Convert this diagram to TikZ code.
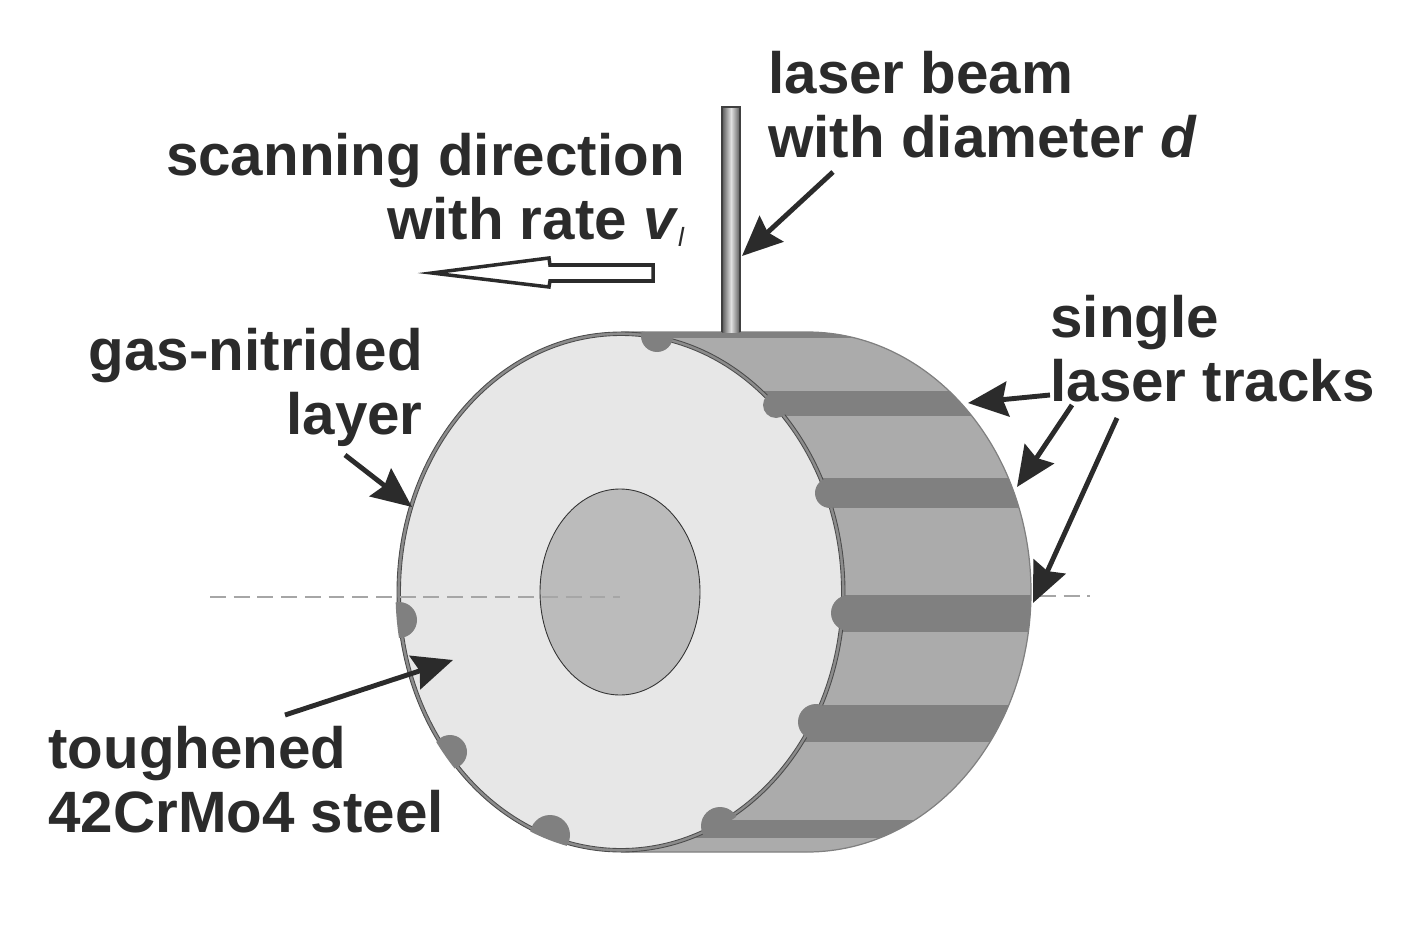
\documentclass[tikz,border=0pt]{standalone}
\usepackage{fontspec}
\setmainfont{Liberation Sans}
\usetikzlibrary{arrows.meta,positioning,shapes,calc}
\definecolor{bodygray}{HTML}{ABABAB}
\definecolor{trackgray}{HTML}{808080}
\definecolor{discgray}{HTML}{E7E7E7}
\definecolor{coregray}{HTML}{BBBBBB}
\definecolor{inkgray}{HTML}{2B2B2B}
\tikzset{
  lbl/.style={inner sep=0pt, text=inkgray, font=\fontsize{33.2}{36.3}\selectfont\bfseries},
  pointer/.style={draw=inkgray, line width=2.8pt, -{Stealth[length=0.8cm,width=0.7cm,inset=0.1cm]}},
  axisline/.style={draw=black!35, line width=1.1pt, dash pattern=on 9pt off 4.5pt},
}
\begin{document}
\begin{tikzpicture}[x=0.02cm,y=-0.02cm]
\useasboundingbox (0,0) rectangle (1412,932);
% roller body
\fill[bodygray] (621,332) -- (807,332) arc[start angle=-90, end angle=90, x radius=224, y radius=260] -- (621,852) -- cycle;
\begin{scope}
\clip (621,332) -- (807,332) arc[start angle=-90, end angle=90, x radius=224, y radius=260] -- (621,852) -- cycle;
\foreach \ya/\yb in {331/338,391/416,478/508,595/632,705/742,820/838}
  \fill[trackgray] (621,\ya) rectangle (1040,\yb);
\end{scope}
\draw[black!50, line width=0.7pt] (621,332) -- (807,332) arc[start angle=-90, end angle=90, x radius=224, y radius=260] -- (621,852);
% front face
\draw[black!70, fill=black!45, line width=0.5pt] (621,592) ellipse[x radius=224, y radius=260];
\draw[black!70, fill=discgray, line width=0.5pt] (621,592) ellipse[x radius=220.5, y radius=256.5];
\draw[black!80, fill=coregray, line width=0.5pt] (620,592) ellipse[x radius=80, y radius=103];
% melted spots
\begin{scope}
\clip (621,592) ellipse[x radius=225.5, y radius=261.5];
\foreach \bx/\by/\br in {657/336/16,776/405/13,830/493/15,849/613/18,816/722/18,720/826/19,550/835/20,450/752/17,399/620/18}
  \fill[trackgray] (\bx,\by) circle (\br);
\end{scope}
% axis
\coordinate (axisa) at (210,597);
\coordinate (axisb) at (620,597);
\coordinate (axisc) at (1040,596);
\coordinate (axisd) at (1090,596);
\draw[axisline] (axisa) -- (axisb);
\draw[axisline] (axisc) -- (axisd);
% beam
\shade[left color=black!65, right color=black!65, middle color=black!12] (722,107) rectangle (740,332);
\draw[black!75, line width=0.7pt] (722,332) -- (722,107) -- (740,107) -- (740,332);
% scanning arrow
\draw[draw=inkgray, fill=white, line width=2pt] (653,265) -- (550,265) -- (549,258) -- (432,273) -- (549,287) -- (550,281) -- (653,281) -- cycle;
% labels
\node[lbl, align=left, anchor=north west] (beamlbl) at (768,51) {laser beam\\with diameter \textit{d}};
\node[lbl, align=right, anchor=north east] (scanlbl) at (685,133) {scanning direction\\with rate \textit{v}\raisebox{-0.12em}{\fontsize{15}{15}\selectfont\mdseries\textit{l}}};
\node[lbl, align=right, anchor=north east] (nitridelbl) at (423,328) {gas-nitrided\\layer};
\node[lbl, align=left, anchor=north west] (tracklbl) at (1050,295) {single\\laser tracks};
\node[lbl, align=left, anchor=north west] (steellbl) at (48,726) {toughened\\42CrMo4 steel};
% pointers
\coordinate (beamtail) at (833,172);
\coordinate (beamtip) at (742,256);
\coordinate (trackatail) at (1050,395);
\coordinate (trackatip) at (968,403);
\coordinate (trackbtail) at (1072,405);
\coordinate (trackbtip) at (1017,487);
\coordinate (trackctail) at (1117,418);
\coordinate (trackctip) at (1033,603);
\coordinate (nitridetail) at (345,455);
\coordinate (nitridetip) at (412,507);
\coordinate (steeltail) at (285,715);
\coordinate (steeltip) at (453,660);
\foreach \p in {beam,tracka,trackb,trackc,nitride,steel}
  \draw[pointer] (\p tail) -- (\p tip);
\end{tikzpicture}
\end{document}
